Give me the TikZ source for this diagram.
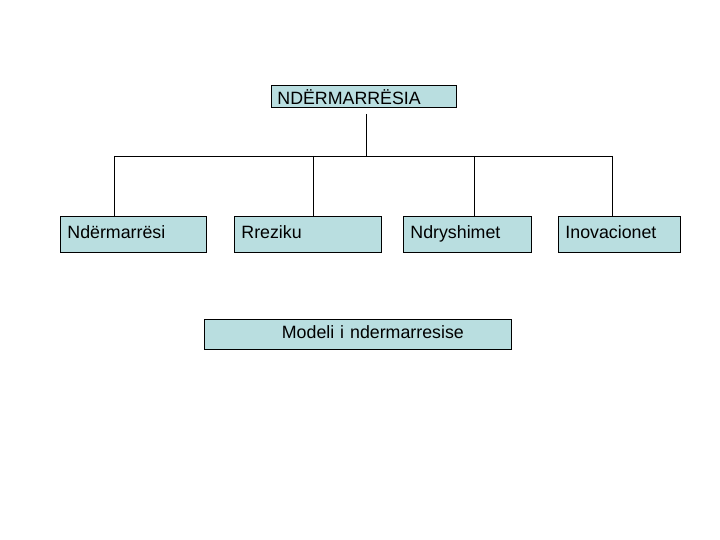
\documentclass[tikz,border=0pt]{standalone}
\usepackage{fontspec}
\setmainfont{Liberation Sans}
\definecolor{boxfill}{RGB}{185,222,224}
\tikzset{
  box/.style={draw=black, fill=boxfill, line width=0.8pt, anchor=north west,
    inner xsep=6pt, inner ysep=0pt, align=left, text height=12.5pt, text depth=3.5pt,
    font=\fontsize{17.8}{20}\selectfont},
  conn/.style={draw=black, line width=0.8pt}
}
\begin{document}
\begin{tikzpicture}[x=1pt,y=-1pt]
\useasboundingbox (0,0) rectangle (720,540);
\node[box, text width=173pt, minimum height=22pt, text height=16pt, text depth=0pt] (top) at (271,85) {NDËRMARRËSIA};
\node[box, text width=132pt, minimum height=36pt, inner xsep=7pt] (n1) at (60,216) {Ndërmarrësi};
\node[box, text width=133pt, minimum height=36pt, inner xsep=7pt] (n2) at (234,216) {Rreziku};
\node[box, text width=114pt, minimum height=36pt, inner xsep=7pt] (n3) at (403,216) {Ndryshimet};
\node[box, text width=108pt, minimum height=36pt, inner xsep=7pt] (n4) at (558,216) {Inovacionet};
\node[box, text width=295pt, minimum height=30pt, align=center] (bot) at (204,319) {\hspace*{30pt}Modeli i ndermarresise};
\coordinate (busL) at (114,156);
\coordinate (busR) at (612,156);
\coordinate (drop) at (366,114);
\draw[conn] (drop) -- (drop |- busL);
\draw[conn] (busL) -- (busR);
\draw[conn] (busL) -- (busL |- n1.north);
\draw[conn] (313,156) -- (313,216);
\draw[conn] (474,156) -- (474,216);
\draw[conn] (busR) -- (busR |- n4.north);
\end{tikzpicture}
\end{document}
